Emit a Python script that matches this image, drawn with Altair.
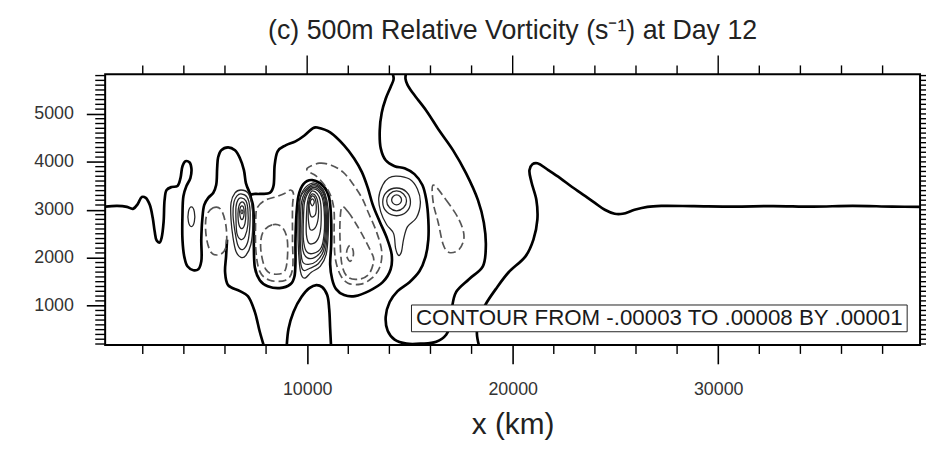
import altair as alt
import pandas as pd

FONT = "Liberation Sans"

# ---------------- axis ranges and ticks ----------------
X_DOMAIN = [170, 39822]
Y_DOMAIN = [180, 5826]
x_major = [10000, 20000, 30000]
x_minor = [v for v in range(2000, 40000, 2000) if v % 10000 != 0]
y_major = [1000, 2000, 3000, 4000, 5000]
y_minor = [v for v in range(200, 5900, 100) if v % 1000 != 0]

# ---------------- contour paths (x in km, y in m) ----------------
# zero contour (thick) - open paths
zero_left = [(100, 3062), (748, 3082), (1230, 3062), (1520, 3020), (1761, 3124), (1954, 3268), (2147, 3248),
             (2340, 3103), (2484, 2834), (2581, 2545), (2677, 2359), (2822, 2317), (2919, 2421), (3015, 2751),
             (3063, 3206), (3160, 3413), (3401, 3475), (3690, 3496), (3835, 3661), (3932, 3910), (4076, 4013),
             (4269, 3992), (4366, 3868), (4317, 3661), (4125, 3496), (3980, 3289), (3932, 2896), (3932, 2379),
             (4028, 2007), (4173, 1821), (4462, 1738), (4703, 1759), (4848, 1924), (4848, 2379), (4896, 2793),
             (4993, 3103), (5186, 3248), (5427, 3351), (5572, 3517), (5620, 3868), (5668, 4096), (5813, 4240),
             (6151, 4302), (6488, 4240), (6729, 4075), (6922, 3827), (7019, 3558), (7164, 3393), (7260, 3310)]
zero_lower = [(6102, 2379), (6054, 2028), (6006, 1697), (6151, 1428), (6729, 1304), (7115, 1200),
              (7453, 870), (7694, 456), (7935, 100)]
zero_hump = [(8997, 100), (9093, 518), (9334, 870), (9720, 1180), (10106, 1366), (10444, 1428),
             (10733, 1387), (10975, 1221), (11071, 932), (11119, 518), (11168, 100)]
zero_neck = [(14110, 5900), (14207, 5729), (14062, 5564), (13821, 5316), (13628, 5026), (13531, 4654),
             (13580, 4282), (13821, 4034), (14255, 3910), (14737, 3868), (15220, 3744), (15606, 3517),
             (15798, 3206), (15895, 2793), (15895, 2379), (15750, 2007), (15461, 1717), (14978, 1490),
             (14400, 1304), (14014, 1076), (13821, 766), (13917, 477), (14255, 291), (14834, 208),
             (15557, 208), (16281, 249), (16763, 394), (17004, 683), (17053, 973), (17246, 1283),
             (17873, 1552), (18548, 1821), (18693, 2234), (18597, 2731), (18307, 3206), (17728, 3765),
             (17101, 4240), (16426, 4654), (15798, 5068), (15171, 5419), (14882, 5605), (14785, 5729),
             (14834, 5900)]
zero_east = [(18403, 100), (18259, 415), (18355, 725), (18693, 1035), (19175, 1345), (19803, 1697),
             (20623, 2028), (21009, 2379), (21201, 2793), (21153, 3206), (20912, 3579), (20816, 3827),
             (20960, 3951), (21201, 3972), (21732, 3827), (22311, 3661), (22890, 3475), (23517, 3289),
             (23999, 3144), (24482, 3000), (24964, 2917), (25350, 2917), (25929, 3000), (26556, 3062),
             (27231, 3082), (28823, 3076), (30753, 3066), (32682, 3078), (34612, 3066), (36542, 3082),
             (38471, 3066), (40000, 3062)]
# zero contour (thick) - closed loop around the negative region
zero_loop = [(7260, 3310), (7694, 3331), (8177, 3351), (8370, 3517), (8418, 3930), (8563, 4220), (8949, 4344),
             (9431, 4427), (9865, 4551), (10251, 4695), (10492, 4716), (11119, 4613), (11795, 4344),
             (12277, 4075), (12663, 3786), (12952, 3455), (13193, 3103), (13531, 2751), (13869, 2421),
             (14110, 2069), (14062, 1759), (13676, 1490), (13001, 1304), (12325, 1200), (11795, 1221),
             (11409, 1345), (11216, 1552), (11119, 1862), (11168, 2276), (11168, 2793), (11071, 3248),
             (10782, 3496), (10251, 3620), (9817, 3537), (9576, 3289), (9479, 2896), (9431, 2379),
             (9431, 1924), (9383, 1614), (9190, 1449), (8659, 1366), (8080, 1407), (7694, 1531),
             (7453, 1800), (7405, 2276), (7405, 2793), (7357, 3103)]

# positive contours (thin solid), closed
pos_small = [(4366, 3062), (4510, 2958), (4510, 2751), (4366, 2648), (4221, 2751), (4221, 2958)]
pos_m1 = [(6778, 3413), (7115, 3351), (7308, 3103), (7357, 2689), (7260, 2276), (7019, 2048), (6778, 2007),
          (6537, 2131), (6392, 2421), (6295, 2793), (6295, 3144), (6488, 3351)]
pos_m2 = [(6778, 3331), (7067, 3268), (7212, 3041), (7212, 2669), (7115, 2338), (6874, 2172), (6633, 2255),
          (6488, 2545), (6392, 2896), (6440, 3165), (6585, 3289)]
pos_m3 = [(6778, 3248), (7019, 3186), (7115, 3000), (7115, 2689), (6971, 2441), (6778, 2379), (6585, 2503),
          (6537, 2793), (6537, 3062), (6633, 3206)]
pos_m4 = [(6826, 3165), (6971, 3103), (7019, 2938), (6971, 2710), (6826, 2607), (6681, 2689), (6633, 2917),
          (6681, 3082)]
pos_m5 = [(6826, 3082), (6922, 3020), (6922, 2876), (6826, 2793), (6729, 2876), (6729, 3020)]
pos_m6 = [(6826, 3000), (6874, 2958), (6826, 2917), (6778, 2958)]
pos_r1 = [(10251, 3558), (10637, 3496), (10878, 3331), (11023, 3000), (11023, 2483), (10926, 2069),
          (10637, 1821), (10203, 1697), (9865, 1573), (9672, 1717), (9576, 2172), (9552, 2689),
          (9600, 3144), (9817, 3413)]
pos_r1b = [(10251, 3527), (10613, 3475), (10854, 3310), (10975, 2979), (10975, 2483), (10854, 2100),
           (10540, 1873), (10130, 1780), (9817, 1738), (9672, 1924), (9624, 2441), (9624, 2958),
           (9672, 3248), (9865, 3393)]
pos_r2 = [(10251, 3496), (10589, 3455), (10830, 3289), (10926, 2958), (10926, 2483), (10782, 2131),
          (10444, 1924), (10058, 1862), (9769, 1924), (9672, 2276), (9672, 2751), (9720, 3144), (9913, 3372)]
pos_r2b = [(10251, 3465), (10565, 3424), (10782, 3268), (10878, 2958), (10878, 2503), (10733, 2172),
           (10372, 2007), (10010, 1997), (9793, 2152), (9744, 2545), (9769, 2958), (9793, 3144), (9962, 3351)]
pos_r3 = [(10251, 3434), (10540, 3393), (10733, 3248), (10830, 2958), (10830, 2524), (10685, 2214),
          (10299, 2090), (9962, 2131), (9817, 2379), (9817, 2793), (9865, 3144), (10010, 3331)]
pos_r4 = [(10251, 3393), (10492, 3331), (10637, 3186), (10685, 2896), (10637, 2545), (10444, 2338),
          (10106, 2296), (9962, 2483), (9962, 2834), (10010, 3144), (10106, 3310)]
pos_r5 = [(10251, 3331), (10444, 3268), (10540, 3103), (10540, 2834), (10396, 2627), (10154, 2586),
          (10058, 2793), (10058, 3062), (10106, 3227)]
pos_r6 = [(10251, 3289), (10396, 3227), (10444, 3062), (10396, 2896), (10203, 2855), (10106, 3000),
          (10106, 3165)]
pos_r7 = [(10251, 3227), (10347, 3165), (10251, 3082), (10154, 3165)]
pos_c1 = [(14351, 3310), (14520, 3279), (14592, 3206), (14520, 3134), (14351, 3103), (14183, 3134),
          (14110, 3206), (14183, 3279)]
pos_c2 = [(14351, 3393), (14688, 3331), (14834, 3186), (14688, 3041), (14351, 2979), (14014, 3041),
          (13869, 3186), (14014, 3331)]
pos_c3 = [(14351, 3455), (14834, 3372), (15026, 3165), (14834, 2958), (14351, 2876), (13869, 2958),
          (13676, 3165), (13869, 3372)]
pos_c4 = [(14351, 3703), (14978, 3641), (15364, 3434), (15509, 3144), (15316, 2834), (14882, 2648),
          (14688, 2379), (14592, 2131), (14447, 2048), (14303, 2193), (14207, 2503), (13869, 2689),
          (13580, 2958), (13483, 3248), (13676, 3517), (13965, 3662)]

# negative contours (dashed), closed
neg_e1 = [(5089, 2855), (5427, 3041), (5813, 3000), (6054, 2648), (6054, 2234), (5765, 2069), (5331, 2110),
          (5089, 2441)]
neg_l1 = [(7501, 2855), (7598, 3062), (7984, 3206), (8466, 3268), (8949, 3351), (9190, 3413), (9334, 3331),
          (9286, 3062), (9286, 2379), (9286, 1759), (8949, 1531), (8177, 1531), (7694, 1717), (7501, 2172)]
neg_l2 = [(7839, 2524), (8321, 2689), (8804, 2627), (9045, 2317), (8949, 1759), (8466, 1655), (7984, 1759),
          (7743, 2172)]
neg_b1 = [(10010, 3868), (10589, 3972), (11168, 3930), (11746, 3786), (12229, 3537), (12663, 3248),
          (13001, 2917), (13387, 2524), (13628, 2131), (13531, 1800), (13145, 1573), (12615, 1449),
          (11988, 1469), (11602, 1655), (11361, 2007), (11312, 2545), (11312, 2958), (11168, 3268),
          (10878, 3496), (10444, 3703), (10106, 3786)]
neg_b2 = [(11698, 3062), (11988, 2958), (12374, 2710), (12759, 2421), (13097, 2131), (13241, 1945),
          (13001, 1655), (12518, 1552), (11988, 1593), (11698, 1841), (11602, 2338), (11602, 2793)]
neg_b3 = [(12084, 2255), (12205, 2193), (12253, 2090), (12205, 1986), (12084, 1924), (11964, 1986),
          (11915, 2090), (11964, 2193)]
neg_d4 = [(16136, 3517), (16763, 3206), (17391, 2793), (17632, 2441), (17391, 2172), (16908, 2110),
          (16618, 2276), (16378, 2731), (16136, 3144)]

TITLE = "(c) 500m Relative Vorticity (s\u207b\u00b9) at Day 12"
INFO = "CONTOUR FROM -.00003 TO .00008 BY .00001"
INFO_X = [15075, 39195]   # info-label box, data units
INFO_Y = [456, 1014]


def frame(curves):
    rows = []
    for name, pts in curves.items():
        for i, (x, y) in enumerate(pts):
            rows.append({"curve": name, "i": i, "x": x, "y": y})
    return pd.DataFrame(rows)


xs = alt.Scale(domain=X_DOMAIN, nice=False, zero=False)
ys = alt.Scale(domain=Y_DOMAIN, nice=False, zero=False)

x_axis = alt.Axis(values=x_major, format="d", tickSize=19, tickWidth=1.6, tickColor="black",
                  labelPadding=17, labelFontSize=18, labelFont=FONT, labelColor="#333",
                  domain=False, grid=False, labelFlush=False, title="x (km)", titleFontSize=30,
                  titleFont=FONT, titleFontWeight="normal", titleColor="#222", titlePadding=11)
y_axis = alt.Axis(values=y_major, format="d", tickSize=19, tickWidth=1.6, tickColor="black",
                  labelPadding=13, labelFontSize=18, labelFont=FONT, labelColor="#333",
                  domain=False, grid=False, labelFlush=False, title=None)


def lines(curves, interp, color, width, dash=None):
    kw = dict(interpolate=interp, color=color, strokeWidth=width, clip=True)
    if dash:
        kw["strokeDash"] = dash
    return alt.Chart(frame(curves)).mark_line(**kw).encode(
        x=alt.X("x:Q", scale=xs, axis=x_axis),
        y=alt.Y("y:Q", scale=ys, axis=y_axis),
        detail="curve:N",
        order=alt.Order("i:Q"),
    )


zero_open_layer = lines({"left": zero_left, "lower": zero_lower, "hump": zero_hump,
                         "neck": zero_neck, "east": zero_east},
                        "catmull-rom", "black", 2.7)
zero_loop_layer = lines({"loop": zero_loop}, "cardinal-closed", "black", 2.7)
pos_layer = lines({"s": pos_small, "m1": pos_m1, "m2": pos_m2, "m3": pos_m3, "m4": pos_m4, "m5": pos_m5,
                   "m6": pos_m6, "r1": pos_r1, "r1b": pos_r1b, "r2": pos_r2, "r2b": pos_r2b, "r3": pos_r3,
                   "r4": pos_r4, "r5": pos_r5, "r6": pos_r6, "r7": pos_r7,
                   "c1": pos_c1, "c2": pos_c2, "c3": pos_c3, "c4": pos_c4},
                  "cardinal-closed", "#262626", 1.3)
neg_layer = lines({"e1": neg_e1, "l1": neg_l1, "l2": neg_l2, "b1": neg_b1, "b2": neg_b2, "b3": neg_b3,
                   "d4": neg_d4},
                  "cardinal-closed", "#555555", 1.7, dash=[8, 4])

info_df = pd.DataFrame({"x0": [INFO_X[0]], "x1": [INFO_X[1]], "y0": [INFO_Y[0]], "y1": [INFO_Y[1]],
                        "xm": [(INFO_X[0] + INFO_X[1]) / 2], "ym": [(INFO_Y[0] + INFO_Y[1]) / 2],
                        "label": [INFO]})
info_box = alt.Chart(info_df).mark_rect(fill="white", stroke="#222", strokeWidth=1).encode(
    x=alt.X("x0:Q", scale=xs, axis=x_axis), x2="x1:Q",
    y=alt.Y("y0:Q", scale=ys, axis=y_axis), y2="y1:Q")
info_text = alt.Chart(info_df).mark_text(
    fontSize=22.5, font=FONT, color="#1a1a1a", align="center", baseline="middle").encode(
    x=alt.X("xm:Q", scale=xs, axis=x_axis), y=alt.Y("ym:Q", scale=ys, axis=y_axis), text="label:N")


def xticks(vals, y0, y1):
    return alt.Chart(pd.DataFrame({"v": vals})).mark_rule(clip=False, color="black", strokeWidth=1.4).encode(
        x=alt.X("v:Q", scale=xs, axis=x_axis), y=alt.value(y0), y2=alt.value(y1))


def yticks(vals, x0, x1):
    return alt.Chart(pd.DataFrame({"v": vals})).mark_rule(clip=False, color="black", strokeWidth=1.4).encode(
        y=alt.Y("v:Q", scale=ys, axis=y_axis), x=alt.value(x0), x2=alt.value(x1))


tick_layers = [
    xticks(x_minor, 273, 282),      # bottom minor
    xticks(x_minor, 0, -9),         # top minor
    xticks(x_major, 0, -19),        # top major
    yticks(y_minor, 0, -10),        # left minor
    yticks(y_minor, 822, 830),      # right minor
    yticks(y_major, 822, 841),      # right major
]

chart = alt.layer(
    zero_open_layer, zero_loop_layer, neg_layer, pos_layer, info_box, info_text, *tick_layers
).properties(
    width=822,
    height=273,
    title=alt.TitleParams(TITLE, fontSize=27, font=FONT, fontWeight="normal", color="#222",
                          anchor="middle", offset=10),
    padding={"left": 98, "top": 65, "right": 6, "bottom": 100},
    autosize=alt.AutoSizeParams(type="none"),
).configure_view(stroke="black", strokeWidth=2)

chart.save("out.html", embed_options={"renderer": "svg", "actions": False})
